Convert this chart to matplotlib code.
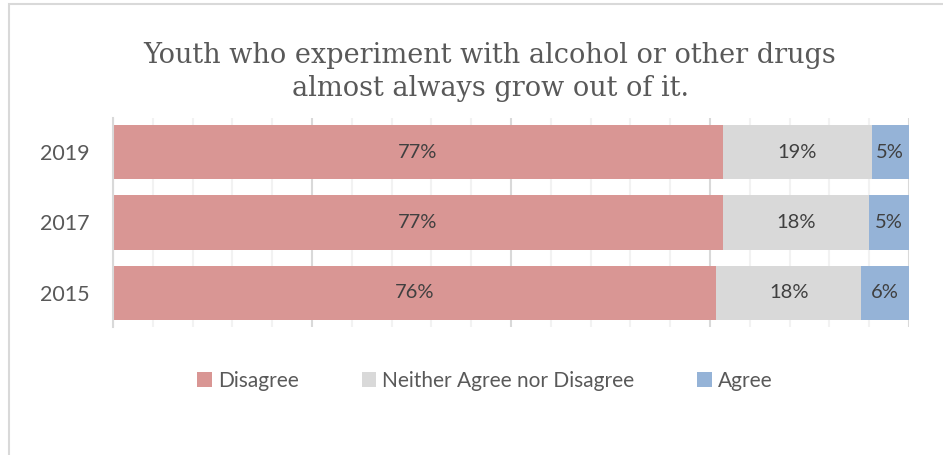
import numpy as np
import matplotlib.pyplot as plt
from matplotlib.patches import Rectangle

# ===== data (percent; labels are rounded) =====
years = ["2015", "2017", "2019"]
disagree = [75.8, 76.6, 76.6]
neither = [18.2, 18.4, 18.7]
agree = [6.0, 5.0, 4.7]
series_names = ["Disagree", "Neither Agree nor Disagree", "Agree"]
colors = ["#d99694", "#d9d9d9", "#95b3d7"]
title = "Youth who experiment with alcohol or other drugs\nalmost always grow out of it."

plt.rcParams['font.family'] = ['Lato', 'DejaVu Sans']

fig = plt.figure(figsize=(9.43, 4.55), dpi=100)
# light chart border like the excel chart area
fig.patches.append(Rectangle((9 / 943, -0.1), 1.0, 1.1 - 4 / 455, transform=fig.transFigure,
                             fill=False, edgecolor="#d9d9d9", linewidth=1.5))

ax = fig.add_axes([113 / 943, 1 - 327 / 455, 796 / 943, 209 / 455])

data = np.array([disagree, neither, agree], dtype=float)
shares = data / data.sum(axis=0)
y = np.arange(len(years))
left = np.zeros(len(years))
for vals, share, name, col in zip(data, shares, series_names, colors):
    ax.barh(y, share, left=left, height=0.77, color=col, label=name, zorder=2)
    for yi, l, s, v in zip(y, left, share, vals):
        ax.text(l + s / 2, yi, f"{round(v)}%", ha="center", va="center",
                fontsize=14.5, color="#404040", zorder=3)
    left += share

ax.set_xlim(0, 1)
ax.set_ylim(-0.49, 2.49)
ax.set_yticks(y)
ax.set_yticklabels(years, fontsize=15.5, color="#595959")
ax.tick_params(axis="y", length=0, pad=17)
ax.set_xticks(np.arange(0, 1.01, 0.25))
ax.set_xticks(np.arange(0, 1.01, 0.05), minor=True)
ax.set_xticklabels([])
ax.tick_params(axis="x", which="both", length=0)
ax.grid(axis="x", which="major", color="#d9d9d9", linewidth=1.5, zorder=0)
ax.grid(axis="x", which="minor", color="#f2f2f2", linewidth=1.5, zorder=0)
for s in ["top", "right", "bottom"]:
    ax.spines[s].set_visible(False)
ax.spines["left"].set_color("#d9d9d9")
ax.spines["left"].set_linewidth(1.5)

fig.text(490 / 943, 1 - 72 / 455, title, ha="center", va="center", fontsize=19.5,
         family="DejaVu Serif", color="#595959", linespacing=1.3)

fig.legend(loc="center", bbox_to_anchor=(485 / 943, 1 - 381 / 455), ncol=3, frameon=False,
           fontsize=15, labelcolor="#595959", handlelength=0.7, handleheight=0.7,
           handletextpad=0.3, columnspacing=3.0)

fig.savefig("out.png", dpi=100)
